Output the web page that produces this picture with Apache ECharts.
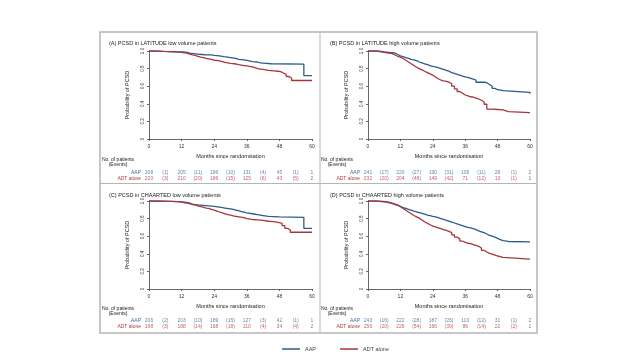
<!DOCTYPE html>
<html>
<head>
<meta charset="utf-8">
<script src="https://cdn.jsdelivr.net/npm/echarts@6/dist/echarts.min.js"></script>
<style>
html,body{margin:0;padding:0;background:#fff;}
#c{width:640px;height:360px;}
</style>
</head>
<body>
<div id="c"></div>
<script>
// ---------- data ----------
const panelTitles = [
  '(A) PCSD in LATITUDE low volume patients',
  '(B) PCSD in LATITUDE high volume patients',
  '(C) PCSD in CHAARTED low volume patients',
  '(D) PCSD in CHAARTED high volume patients'
];
const groupNames = ['AAP', 'ADT alone'];
const riskTimes = [0, 6, 12, 18, 24, 30, 36, 42, 48, 54, 60];

// (A) LATITUDE low volume
const aAapT = [0, 2, 5, 9, 12.5, 14, 15, 16.5, 18, 19.5, 21, 23, 24, 26, 27.5, 29, 30, 32, 33, 35, 36.5, 38, 40, 41, 43, 45, 57, 60];
const aAapS = [1.0, 0.995, 0.99, 0.99, 0.985, 0.975, 0.97, 0.965, 0.96, 0.955, 0.955, 0.95, 0.945, 0.935, 0.93, 0.925, 0.915, 0.905, 0.9, 0.89, 0.88, 0.875, 0.865, 0.86, 0.855, 0.85, 0.72, 0.72];
const aAdtT = [0, 3, 6, 10, 12, 13, 14, 15, 16, 17, 18, 19, 20, 21, 22, 23, 24, 25.5, 27, 28, 29, 30, 31.5, 33, 34, 35, 36, 37, 38, 39, 40, 41, 42, 43, 44, 46, 47.5, 48.5, 49.5, 50.5, 51.5, 52.5, 60];
const aAdtS = [1.0, 0.995, 0.99, 0.985, 0.98, 0.975, 0.965, 0.955, 0.95, 0.94, 0.93, 0.925, 0.915, 0.91, 0.905, 0.895, 0.89, 0.88, 0.87, 0.865, 0.86, 0.855, 0.845, 0.84, 0.835, 0.83, 0.825, 0.82, 0.81, 0.8, 0.795, 0.79, 0.785, 0.78, 0.775, 0.77, 0.765, 0.75, 0.735, 0.71, 0.69, 0.665, 0.665];
const aAapRisk = ['208', '(1)', '205', '(11)', '186', '(10)', '131', '(4)', '45', '(1)', '1'];
const aAdtRisk = ['220', '(3)', '210', '(20)', '186', '(15)', '125', '(6)', '43', '(5)', '2'];

// (B) LATITUDE high volume
const bAapT = [0, 4, 6, 7.5, 9, 10, 11, 12, 13, 14, 15, 16, 17, 18, 19, 20, 21, 22, 23, 24, 25, 26, 27, 28, 29, 30, 31, 32, 33, 34, 35, 36, 37, 38, 39, 40, 43, 44, 45, 46, 47, 48, 50, 60];
const bAapS = [1.0, 0.99, 0.985, 0.98, 0.975, 0.96, 0.945, 0.935, 0.925, 0.915, 0.905, 0.9, 0.89, 0.875, 0.865, 0.855, 0.845, 0.835, 0.825, 0.82, 0.81, 0.8, 0.79, 0.78, 0.77, 0.755, 0.745, 0.735, 0.725, 0.715, 0.705, 0.7, 0.69, 0.68, 0.67, 0.645, 0.64, 0.62, 0.6, 0.575, 0.56, 0.55, 0.53, 0.515];
const bAdtT = [0, 3, 5, 7, 9, 10, 11, 12, 13, 14, 15, 16, 17, 18, 19, 20, 21, 22, 23, 24, 25, 26, 27, 28, 29, 30, 31, 32, 33, 34, 35, 36, 37, 38, 39, 40, 41, 42, 43, 44, 46, 48, 50, 52, 60];
const bAdtS = [1.0, 0.99, 0.98, 0.97, 0.955, 0.94, 0.93, 0.915, 0.895, 0.875, 0.855, 0.835, 0.815, 0.8, 0.785, 0.77, 0.755, 0.74, 0.725, 0.705, 0.685, 0.67, 0.66, 0.655, 0.645, 0.63, 0.6, 0.57, 0.54, 0.52, 0.5, 0.49, 0.48, 0.475, 0.465, 0.455, 0.44, 0.42, 0.395, 0.34, 0.335, 0.33, 0.31, 0.3, 0.3];
const bAapRisk = ['241', '(17)', '220', '(27)', '190', '(31)', '106', '(11)', '28', '(1)', '2'];
const bAdtRisk = ['232', '(20)', '204', '(48)', '149', '(42)', '71', '(12)', '13', '(1)', '1'];

// (C) CHAARTED low volume
const cAapT = [0, 3, 6, 9, 12, 14, 15, 16, 17, 18, 20, 22, 24, 26, 27, 28, 30, 31, 32, 33, 34, 35, 36, 38, 40, 42, 44, 48, 57, 60];
const cAapS = [1.0, 0.998, 0.995, 0.99, 0.985, 0.975, 0.965, 0.96, 0.955, 0.95, 0.945, 0.94, 0.93, 0.925, 0.92, 0.91, 0.905, 0.895, 0.89, 0.88, 0.875, 0.865, 0.855, 0.845, 0.835, 0.825, 0.82, 0.815, 0.69, 0.69];
const cAdtT = [0, 4, 8, 12, 13, 14, 15, 16, 17, 18, 19, 20, 21, 22, 23, 24, 25, 26, 27, 28, 29, 30, 31, 33, 35, 36, 38, 40, 42, 44, 46, 48, 49, 50, 51, 52, 60];
const cAdtS = [1.0, 0.995, 0.99, 0.98, 0.975, 0.97, 0.96, 0.955, 0.945, 0.935, 0.93, 0.92, 0.915, 0.905, 0.895, 0.885, 0.875, 0.865, 0.855, 0.845, 0.84, 0.83, 0.82, 0.81, 0.8, 0.79, 0.785, 0.78, 0.77, 0.765, 0.755, 0.745, 0.72, 0.69, 0.67, 0.645, 0.645];
const cAapRisk = ['206', '(2)', '203', '(10)', '189', '(15)', '127', '(3)', '42', '(1)', '1'];
const cAdtRisk = ['198', '(3)', '188', '(14)', '168', '(18)', '110', '(4)', '34', '(4)', '2'];

// (D) CHAARTED high volume
const dAapT = [0, 3, 6, 8, 9, 10, 11, 12, 13, 14, 15, 16, 17, 18, 19, 20, 21, 22, 23, 24, 25, 26, 27, 28, 29, 30, 31, 32, 33, 34, 35, 36, 37, 38, 39, 40, 41, 42, 43, 44, 45, 46, 47, 48, 49, 50, 52, 60];
const dAapS = [1.0, 0.995, 0.985, 0.975, 0.965, 0.955, 0.94, 0.925, 0.915, 0.905, 0.895, 0.885, 0.875, 0.868, 0.86, 0.85, 0.84, 0.835, 0.825, 0.82, 0.81, 0.8, 0.79, 0.78, 0.77, 0.76, 0.75, 0.74, 0.73, 0.72, 0.71, 0.7, 0.695, 0.685, 0.675, 0.66, 0.65, 0.64, 0.625, 0.61, 0.6, 0.59, 0.575, 0.56, 0.55, 0.54, 0.535, 0.535];
const dAdtT = [0, 3, 6, 8, 9, 10, 11, 12, 13, 14, 15, 16, 17, 18, 19, 20, 21, 22, 23, 24, 25, 26, 27, 28, 29, 30, 31, 32, 33, 34, 35, 36, 37, 38, 39, 40, 41, 42, 43, 44, 45, 46, 47, 48, 50, 60];
const dAdtS = [1.0, 0.99, 0.98, 0.97, 0.96, 0.95, 0.935, 0.915, 0.895, 0.875, 0.855, 0.835, 0.82, 0.805, 0.785, 0.765, 0.745, 0.73, 0.715, 0.705, 0.695, 0.685, 0.675, 0.665, 0.655, 0.64, 0.615, 0.59, 0.57, 0.545, 0.53, 0.52, 0.515, 0.505, 0.495, 0.485, 0.465, 0.44, 0.42, 0.405, 0.395, 0.385, 0.375, 0.36, 0.34, 0.34];
const dAapRisk = ['243', '(16)', '222', '(28)', '187', '(26)', '110', '(12)', '31', '(1)', '2'];
const dAdtRisk = ['256', '(20)', '226', '(54)', '166', '(39)', '86', '(14)', '22', '(2)', '1'];

// ---------- build ----------
const BLUE = '#2d5b8a';
const RED = '#a8363c';
const BLUE_T = '#3a6aa0';
const RED_T = '#b03a40';
const FS = 5.5;
const FONT = 'Liberation Sans';

const curves = [
  [[aAapT, aAapS], [aAdtT, aAdtS]],
  [[bAapT, bAapS], [bAdtT, bAdtS]],
  [[cAapT, cAapS], [cAdtT, cAdtS]],
  [[dAapT, dAapS], [dAdtT, dAdtS]]
];
const risks = [
  [aAapRisk, aAdtRisk], [bAapRisk, bAdtRisk], [cAapRisk, cAdtRisk], [dAapRisk, dAdtRisk]
];

const chartBoxes = [
  {left: 149, top: 51, width: 163, height: 88},
  {left: 368, top: 51, width: 162, height: 88},
  {left: 149, top: 201, width: 163, height: 88},
  {left: 368, top: 201, width: 162, height: 88}
];
const tableBoxes = [
  {left: 149, top: 170, width: 163, height: 12},
  {left: 368, top: 170, width: 162, height: 12},
  {left: 149, top: 318, width: 163, height: 12},
  {left: 368, top: 318, width: 162, height: 12}
];
const titlePos = [
  {left: 104, top: 35}, {left: 325, top: 35}, {left: 104, top: 187}, {left: 325, top: 187}
];
const npPos = [
  {x: 118, y: 162}, {x: 337, y: 162}, {x: 118, y: 311}, {x: 337, y: 311}
];

const grid = [], xAxis = [], yAxis = [], series = [], titles = [], graphics = [];

for (let i = 0; i < 4; i++) {
  grid.push(Object.assign({containLabel: false}, chartBoxes[i]));
  xAxis.push({
    type: 'value', gridIndex: i, min: 0, max: 60, interval: 12, offset: 3,
    name: 'Months since randomisation', nameLocation: 'middle', nameGap: 11,
    nameTextStyle: {fontSize: FS, color: '#222', fontFamily: FONT},
    axisLine: {show: true, lineStyle: {color: '#444', width: 0.8}},
    axisTick: {show: true, length: 2, lineStyle: {color: '#444', width: 0.8}},
    axisLabel: {fontSize: 5, color: '#333', margin: 2, fontFamily: FONT},
    splitLine: {show: false}
  });
  yAxis.push({
    type: 'value', gridIndex: i, min: 0, max: 1, interval: 0.2, offset: 2,
    name: 'Probability of PCSD', nameLocation: 'middle', nameGap: 17, nameRotate: 90,
    nameTextStyle: {fontSize: FS, color: '#222', fontFamily: FONT},
    axisLine: {show: true, lineStyle: {color: '#444', width: 0.8}},
    axisTick: {show: true, length: 2, lineStyle: {color: '#444', width: 0.8}},
    axisLabel: {fontSize: 4.5, color: '#333', margin: 2, rotate: 90, fontFamily: FONT,
      formatter: v => v === 0 ? '0' : v.toFixed(1)},
    splitLine: {show: false}
  });
  titles.push({
    text: panelTitles[i], left: titlePos[i].left, top: titlePos[i].top,
    textStyle: {fontSize: FS, fontWeight: 'normal', color: '#222', fontFamily: FONT}
  });
  graphics.push({
    type: 'text', x: npPos[i].x, y: npPos[i].y,
    style: {text: 'No. of patients\n(Events)', fontSize: 5, fill: '#222', align: 'center', verticalAlign: 'middle', lineHeight: 5, fontFamily: FONT}
  });
  [BLUE, RED].forEach((col, g) => {
    const tt = curves[i][g][0], ss = curves[i][g][1];
    series.push({
      type: 'line', name: groupNames[g], xAxisIndex: i, yAxisIndex: i,
      step: 'end', showSymbol: false, symbol: 'none', animation: false,
      lineStyle: {color: col, width: 1.3}, itemStyle: {color: col},
      data: tt.map((t, k) => [t, ss[k]])
    });
  });
}

for (let i = 0; i < 4; i++) {
  const gi = 4 + i;
  grid.push(Object.assign({containLabel: false}, tableBoxes[i]));
  xAxis.push({type: 'value', gridIndex: gi, min: 0, max: 60, show: false});
  yAxis.push({
    type: 'category', gridIndex: gi, data: groupNames, inverse: true,
    axisLine: {show: false}, axisTick: {show: false}, splitLine: {show: false},
    axisLabel: {fontSize: 5, margin: 8, interval: 0, hideOverlap: false, fontFamily: FONT,
      color: (v) => (v === 'AAP' ? BLUE_T : RED_T)}
  });
  [BLUE_T, RED_T].forEach((col, g) => {
    const arr = risks[i][g];
    series.push({
      type: 'scatter', name: 'risk' + i + g, xAxisIndex: gi, yAxisIndex: gi,
      symbolSize: 0, animation: false, silent: true,
      label: {show: true, position: 'inside', fontSize: 5, color: col, fontFamily: FONT,
        formatter: p => p.value[2]},
      data: riskTimes.map((t, k) => [t, groupNames[g], arr[k]])
    });
  });
}

// frame & dividers
graphics.push({type: 'rect', shape: {x: 100, y: 32, width: 437, height: 301}, style: {fill: 'none', stroke: '#b5b5b5', lineWidth: 1.5}, z: -1});
graphics.push({type: 'line', shape: {x1: 320, y1: 32, x2: 320, y2: 333}, style: {stroke: '#b5b5b5', lineWidth: 1}});
graphics.push({type: 'line', shape: {x1: 100, y1: 183.5, x2: 537, y2: 183.5}, style: {stroke: '#b5b5b5', lineWidth: 1}});

const chart = echarts.init(document.getElementById('c'), null, {renderer: 'canvas'});
chart.setOption({
  backgroundColor: '#fff',
  animation: false,
  title: titles,
  grid: grid,
  xAxis: xAxis,
  yAxis: yAxis,
  legend: {
    data: groupNames, left: 277, top: 341, icon: 'rect', itemWidth: 18, itemHeight: 1.5, itemGap: 24,
    textStyle: {fontSize: 5.5, color: '#444', fontFamily: FONT}, selectedMode: false
  },
  graphic: graphics,
  series: series
});
</script>
</body>
</html>
